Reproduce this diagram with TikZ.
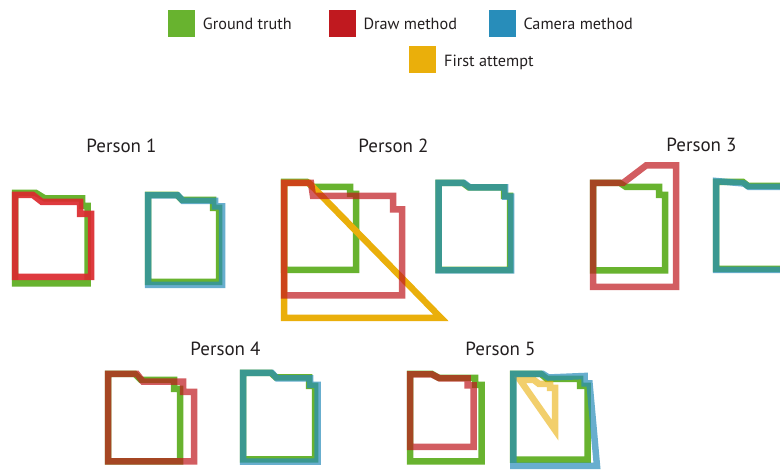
\documentclass[tikz,border=0pt]{standalone}
\usepackage{fontspec}
\setmainfont{PT Sans}
\definecolor{gtgreen}{HTML}{68B32F}
\definecolor{drawred}{HTML}{C0191F}
\definecolor{brightred}{HTML}{DC2A2E}
\definecolor{camblue}{HTML}{288DBA}
\definecolor{firstyel}{HTML}{EAAF0B}
\definecolor{txt}{HTML}{231F20}
\tikzset{
  outline/.style={line width=6.5pt, line join=miter, miter limit=10},
  gt/.style={outline, draw=gtgreen},
  drw/.style={outline, draw=drawred, draw opacity=0.7},
  drwstrong/.style={outline, draw=brightred, draw opacity=0.92},
  cam/.style={outline, draw=camblue, draw opacity=0.7},
  first/.style={outline, draw=firstyel},
  firstpale/.style={outline, draw=firstyel, draw opacity=0.6},
  legsq/.style={minimum width=26.7pt, minimum height=26.7pt, inner sep=0pt, draw=none},
  legtxt/.style={anchor=base west, inner sep=0pt, text=txt, font=\fontsize{16.2}{19}\selectfont},
  title/.style={anchor=base, inner sep=0pt, text=txt, font=\fontsize{19}{22}\selectfont}
}
\begin{document}
\begin{tikzpicture}[x=1pt,y=-1pt]
\useasboundingbox (0,0) rectangle (780,470);
\clip (0,0) rectangle (780,470);
\fill[white] (0,0) rectangle (780,470);
% legend
\node[legsq, fill=gtgreen] (lgg) at (181.7,23.3) {};
\node[legtxt] (lgt) at (202.7,29.3) {Ground truth};
\node[legsq, fill=drawred] (lgr) at (342.7,23.3) {};
\node[legtxt] (lrt) at (363.3,29.3) {Draw method};
\node[legsq, fill=camblue] (lgb) at (502.7,23.3) {};
\node[legtxt] (lbt) at (523.3,29.3) {Camera method};
\node[legsq, fill=firstyel] (lgy) at (422.7,59.7) {};
\node[legtxt] (lyt) at (444,66.7) {First attempt};
% titles
\node[title] (t1) at (121.5,153) {Person 1};
\node[title] (t2) at (393.5,153) {Person 2};
\node[title] (t3) at (701.5,152) {Person 3};
\node[title] (t4) at (225.5,356) {Person 4};
\node[title] (t5) at (500.5,356) {Person 5};
% Person 1 draw
\draw[gt] (15,193)--(36,193)--(45,198.5)--(82,198.5)--(82,206)--(87.5,206)--(87.5,283.5)--(15,283.5)--cycle;
\draw[drwstrong] (15,195)--(33,195)--(42,202)--(80,202)--(80,214)--(91,214)--(91,277)--(15,277)--cycle;
% Person 1 camera
\draw[gt] (148,195)--(177,195)--(182,200)--(213,200)--(213,208)--(219,208)--(219,282)--(148,282)--cycle;
\draw[cam] (148,195.5)--(178,195.5)--(183,201)--(215,201)--(215,206.5)--(222,206.5)--(222,285)--(148,285)--cycle;
% Person 2 draw
\draw[gt] (284,182)--(307,182)--(313,187)--(350,187)--(350,194)--(356,194)--(356,270)--(284,270)--cycle;
\draw[first] (284,183)--(309,183)--(441,318)--(284,318)--cycle;
\draw[drw] (284,183)--(311,183)--(313,196)--(393,196)--(393,209.5)--(402,209.5)--(402,295.5)--(284,295.5)--cycle;
% Person 2 camera
\draw[gt] (438.5,183)--(463,183)--(469,187.5)--(504,187.5)--(504,196)--(510,196)--(510,270)--(438.5,270)--cycle;
\draw[cam] (438.5,183)--(464,183)--(470,187.5)--(505,187.5)--(505,196.7)--(511,196.7)--(511,270.5)--(438.5,270.5)--cycle;
% Person 3 draw
\draw[gt] (593,183)--(620,183)--(626,187)--(659,187)--(659,195)--(665,195)--(665,270.3)--(593,270.3)--cycle;
\draw[drw] (593,183)--(623,183)--(646,165.5)--(676,165.5)--(676,287)--(593,287)--cycle;
% Person 3 camera
\draw[gt] (716,182)--(743,182)--(748,186)--(795,186)--(795,269)--(716,269)--cycle;
\draw[cam] (716,181)--(744,183.5)--(749,187)--(795,187)--(795,270)--(716,270)--cycle;
% Person 4 draw
\draw[gt] (108,374)--(135,374)--(141,380)--(174,380)--(174,389)--(180,389)--(180,461.5)--(108,461.5)--cycle;
\draw[drw] (108,374)--(137,374)--(143,381.7)--(183,381.7)--(183,392)--(194,392)--(194,461.5)--(108,461.5)--cycle;
% Person 4 camera
\draw[gt] (243,373)--(271,373)--(276,377.5)--(309,377.5)--(309,386)--(315,386)--(315,459.5)--(243,459.5)--cycle;
\draw[cam] (243,373)--(272,373)--(277,378.3)--(310,378.3)--(310,385)--(317.5,385)--(317.5,461.7)--(243,461.7)--cycle;
% Person 5 draw
\draw[gt] (410,374)--(432,374)--(439,378)--(475,378)--(475,385)--(481.5,385)--(481.5,461.5)--(410,461.5)--cycle;
\draw[drw] (410,374.5)--(432,374.5)--(440,378.5)--(467.5,378.5)--(467.5,385.5)--(473.5,385.5)--(473.5,447)--(410,447)--cycle;
% Person 5 camera
\draw[gt] (513,374)--(541,374)--(547,379)--(580,379)--(580,386)--(587.5,386)--(587.5,459.7)--(513,459.7)--cycle;
\draw[firstpale] (520,380)--(534,380)--(539,384)--(550,384)--(550,388)--(555,388)--(555,430)--cycle;
\draw[cam] (513.3,374)--(543,374)--(548.5,377.5)--(584.5,376)--(584.5,383.3)--(589.5,383.3)--(597,466)--(513.3,466)--cycle;
\end{tikzpicture}
\end{document}
